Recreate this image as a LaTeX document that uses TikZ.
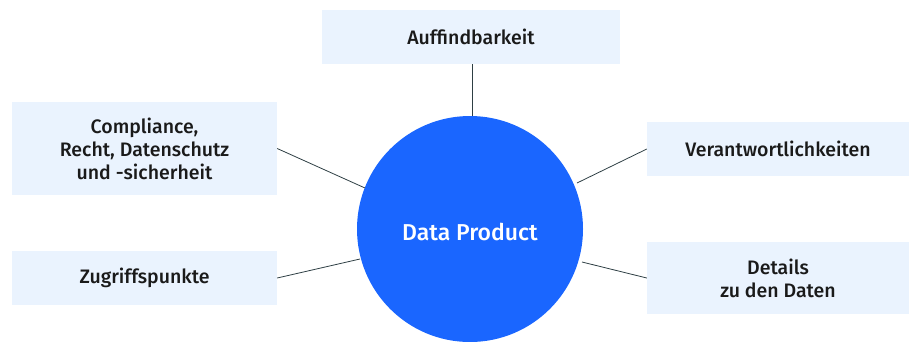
\documentclass[tikz,border=0pt]{standalone}
\usepackage{fontspec}
\setmainfont{Fira Sans}[BoldFont={Fira Sans Medium}]
\definecolor{boxfill}{HTML}{EAF3FE}
\definecolor{circfill}{HTML}{1A66FF}
\definecolor{linecol}{HTML}{2E3F44}
\definecolor{txtcol}{HTML}{1A1A1A}
\begin{document}
\begin{tikzpicture}[x=1pt,y=-1pt,
  topic/.style={fill=boxfill, draw=none, inner sep=0pt, align=center, text=txtcol,
    font=\fontsize{19.5}{23}\selectfont\bfseries},
  link/.style={draw=linecol, line width=0.8pt}]
\useasboundingbox (0,0) rectangle (909,341);
\begin{scope}
\clip (0,0) rectangle (909,341);
\node[circle, fill=circfill, minimum size=226pt, inner sep=0pt] (dp) at (470,229) {};
\end{scope}
\node[text=white, font=\fontsize{23}{26}\selectfont\bfseries] (dpl) at (470,232) {Data Product};
\node[topic, minimum width=298pt, minimum height=54pt] (a) at (471,37) {Auffindbarkeit};
\node[topic, minimum width=265pt, minimum height=93pt] (c) at (144.5,148.5) {Compliance,\\Recht, Datenschutz\\und -sicherheit};
\node[topic, minimum width=265pt, minimum height=54pt] (z) at (144.5,278) {Zugriffspunkte};
\node[topic, minimum width=262pt, minimum height=54pt] (v) at (778,149) {Verantwortlichkeiten};
\node[topic, minimum width=262pt, minimum height=72pt] (d) at (778,278) {Details\\zu den Daten};
\draw[link] (a.south -| 472,0) -- (472,116);
\draw[link] (c.east) -- (365,188);
\draw[link] (z.east) -- (360,259);
\draw[link] (v.west) -- (577,183);
\draw[link] (d.west) -- (582,262);
\end{tikzpicture}
\end{document}
